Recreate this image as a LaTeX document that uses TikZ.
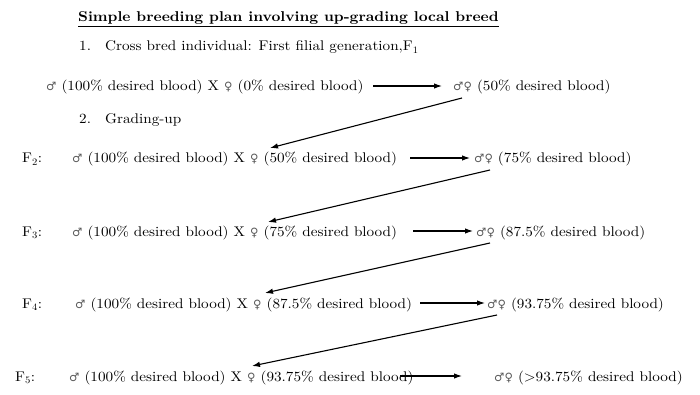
\documentclass[tikz,border=0pt]{standalone}
\usepackage{fontspec}
\setmainfont{lmroman10-regular.otf}[FakeStretch=1.085, BoldFont=lmroman10-bold.otf, ItalicFont=lmroman10-italic.otf]
\newfontfamily\symf{DejaVu Sans}
\usetikzlibrary{arrows.meta}
\newcommand{\ml}{{\symf\color{black!65}\fontsize{11.5}{14}\selectfont ♂}}
\newcommand{\fm}{{\symf\color{black!65}\fontsize{11.5}{14}\selectfont ♀}}
\newcommand{\mf}{{\symf\color{black!65}\fontsize{11.5}{14}\selectfont ♂♀}}
\begin{document}
\begin{tikzpicture}[x=1pt,y=-1pt,
  txt/.style={anchor=base west, inner sep=0pt, font=\fontsize{14}{16}\selectfont},
  arr/.style={-{Latex[length=8pt,width=5.5pt]}, line width=1.1pt}]
\useasboundingbox[fill=white] (0,0) rectangle (700,395);
% title and headings
\node[txt,font=\fontsize{14.2}{17}\selectfont\bfseries] (title) at (78,22) {\underline{Simple breeding plan involving up-grading local breed}};
\node[txt] (h1n) at (79,51) {1.};
\node[txt] (h1) at (105,51) {Cross bred individual: First filial generation,F\textsubscript{1}};
\node[txt] (h2n) at (79,124) {2.};
\node[txt] (h2) at (105,124) {Grading-up};
% row 1
\node[txt] (l1) at (46,91) {\ml{} (100\% desired blood) X \fm{} (0\% desired blood)};
\node[txt] (r1) at (453,91) {\mf{} (50\% desired blood)};
% row 2
\node[txt] (f2) at (22,163) {F\textsubscript{2}:};
\node[txt] (l2) at (72,163) {\ml{} (100\% desired blood) X \fm{} (50\% desired blood)};
\node[txt] (r2) at (474,163) {\mf{} (75\% desired blood)};
% row 3
\node[txt] (f3) at (22,236) {F\textsubscript{3}:};
\node[txt] (l3) at (72,236) {\ml{} (100\% desired blood) X \fm{} (75\% desired blood)};
\node[txt] (r3) at (476,236) {\mf{} (87.5\% desired blood)};
% row 4
\node[txt] (f4) at (22,308) {F\textsubscript{4}:};
\node[txt] (l4) at (75,308) {\ml{} (100\% desired blood) X \fm{} (87.5\% desired blood)};
\node[txt] (r4) at (487,308) {\mf{} (93.75\% desired blood)};
% row 5
\node[txt] (f5) at (15,381) {F\textsubscript{5}:};
\node[txt] (l5) at (69,381) {\ml{} (100\% desired blood) X \fm{} (93.75\% desired blood)};
\node[txt] (r5) at (494,381) {\mf{} (>93.75\% desired blood)};
% arrow end points
\coordinate (h1s) at (373,86); \coordinate (h1e) at (442,86);
\coordinate (h2s) at (410,158); \coordinate (h2e) at (470,158);
\coordinate (h3s) at (413,231); \coordinate (h3e) at (473,231);
\coordinate (h4s) at (420,303); \coordinate (h4e) at (485,303);
\coordinate (h5s) at (400,376); \coordinate (h5e) at (462,376);
\coordinate (d1s) at (462,98);  \coordinate (d1e) at (270,148);
\coordinate (d2s) at (490,170); \coordinate (d2e) at (268,222);
\coordinate (d3s) at (490,243); \coordinate (d3e) at (265,293);
\coordinate (d4s) at (497,315); \coordinate (d4e) at (252,366);
\foreach \i in {1,...,5} {\draw[arr] (h\i s) -- (h\i e);}
\foreach \i in {1,...,4} {\draw[arr] (d\i s) -- (d\i e);}
\end{tikzpicture}
\end{document}
